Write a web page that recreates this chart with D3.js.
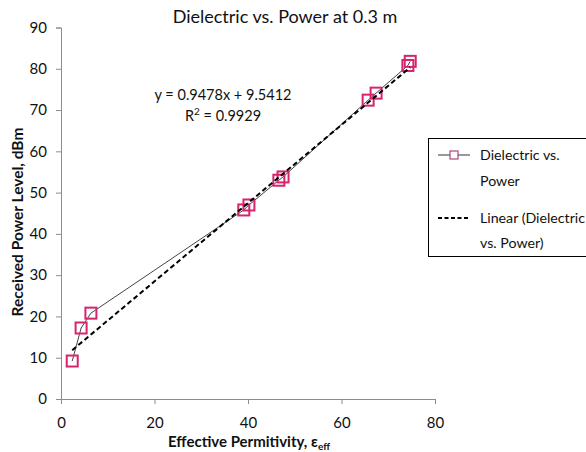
<!DOCTYPE html>
<html>
<head>
<meta charset="utf-8">
<script src="https://cdn.jsdelivr.net/npm/d3@7"></script>
<style>
  html, body { margin: 0; padding: 0; background: #fff; }
  svg { display: block; }
  text { font-family: Lato, "Noto Sans", sans-serif; fill: #111; }
</style>
</head>
<body>
<svg id="chart" width="586" height="452"></svg>
<script>
// Data
const permittivity = [2.4, 4.3, 6.4, 39.1, 40.2, 46.6, 47.5, 65.7, 67.4, 74.2, 74.7];
const powerLevel   = [9.2, 17.2, 20.8, 45.8, 47.0, 53.0, 53.8, 72.4, 74.1, 80.8, 81.8];
const xTicks = [0, 20, 40, 60, 80];
const yTicks = [0, 10, 20, 30, 40, 50, 60, 70, 80, 90];
const slope = 0.9478, intercept = 9.5412;
const titleText = "Dielectric vs. Power at 0.3 m";
const eqText = "y = 0.9478x + 9.5412";
const r2Value = "0.9929";
const legendLabels = [["Dielectric vs.", "Power"], ["Linear (Dielectric", "vs. Power)"]];

const svg = d3.select("#chart");
const plotL = 61, plotR = 435, plotT = 27.5, plotB = 399;
const x = d3.scaleLinear().domain([0, 80]).range([plotL, plotR]);
const y = d3.scaleLinear().domain([0, 90]).range([plotB, plotT]);
const axisColor = "#8c8c8c";
const pink = "#d6246e";

// Axes
const xAxis = svg.append("g").attr("transform", `translate(0,${plotB})`)
  .call(d3.axisBottom(x).tickValues(xTicks).tickSize(5).tickPadding(13).tickFormat(d3.format("d")));
const yAxis = svg.append("g").attr("transform", `translate(${plotL},0)`)
  .call(d3.axisLeft(y).tickValues(yTicks).tickSize(5).tickPadding(9).tickFormat(d3.format("d")));
[xAxis, yAxis].forEach(g => {
  g.select(".domain").attr("stroke", axisColor);
  g.selectAll(".tick line").attr("stroke", axisColor);
  g.selectAll(".tick text").attr("font-size", 15).attr("fill", "#111")
    .attr("font-family", 'Lato, "Noto Sans", sans-serif');
});

// Connecting line
const pts = permittivity.map((v, i) => [v, powerLevel[i]]);
svg.append("path").datum(pts)
  .attr("fill", "none").attr("stroke", "#444").attr("stroke-width", 1)
  .attr("d", d3.line().x(d => x(d[0])).y(d => y(d[1])));

// Markers
svg.append("g").selectAll("rect").data(pts).join("rect")
  .attr("x", d => x(d[0]) - 5.5).attr("y", d => y(d[1]) - 5.5)
  .attr("width", 11).attr("height", 11)
  .attr("fill", "none").attr("stroke", pink).attr("stroke-width", 2);

// Trendline
const xMin = d3.min(permittivity), xMax = d3.max(permittivity);
svg.append("line")
  .attr("x1", x(xMin)).attr("y1", y(slope * xMin + intercept))
  .attr("x2", x(xMax)).attr("y2", y(slope * xMax + intercept))
  .attr("stroke", "#000").attr("stroke-width", 2).attr("stroke-dasharray", "5,3");

// Title
svg.append("text").attr("x", 285).attr("y", 23).attr("text-anchor", "middle")
  .attr("font-size", 18).text(titleText);

// Equation
svg.append("text").attr("x", 223).attr("y", 100).attr("text-anchor", "middle")
  .attr("font-size", 14.5).text(eqText);
const r2 = svg.append("text").attr("x", 223).attr("y", 121).attr("text-anchor", "middle").attr("font-size", 14.5);
r2.append("tspan").text("R");
r2.append("tspan").attr("font-size", 10).attr("dy", -6).text("2");
r2.append("tspan").attr("dy", 6).text(" = " + r2Value);

// Axis titles
svg.append("text").attr("transform", "translate(23,222) rotate(-90)")
  .attr("text-anchor", "middle").attr("font-size", 15.5).attr("font-weight", "bold")
  .text("Received Power Level, dBm");
const xt = svg.append("text").attr("x", 249).attr("y", 447).attr("text-anchor", "middle")
  .attr("font-size", 15).attr("font-weight", "bold");
xt.append("tspan").text("Effective Permitivity, ε");
xt.append("tspan").attr("font-size", 10).attr("dy", 3).text("eff");

// Legend
const lg = svg.append("g");
lg.append("rect").attr("x", 428.5).attr("y", 138.5).attr("width", 170).attr("height", 118)
  .attr("fill", "#fff").attr("stroke", "#000").attr("stroke-width", 1);
lg.append("line").attr("x1", 438).attr("x2", 470).attr("y1", 155).attr("y2", 155)
  .attr("stroke", "#333").attr("stroke-width", 1);
lg.append("rect").attr("x", 450).attr("y", 151).attr("width", 8).attr("height", 8)
  .attr("fill", "#fff").attr("stroke", "#b0457f").attr("stroke-width", 1.2);
lg.append("line").attr("x1", 438).attr("x2", 470).attr("y1", 218).attr("y2", 218)
  .attr("stroke", "#000").attr("stroke-width", 2).attr("stroke-dasharray", "4,2.5");
const lineYs = [[160, 186], [223, 248]];
legendLabels.forEach((lines, i) => {
  lines.forEach((t, j) => {
    lg.append("text").attr("x", 480).attr("y", lineYs[i][j]).attr("font-size", 14.2).text(t);
  });
});
</script>
</body>
</html>
